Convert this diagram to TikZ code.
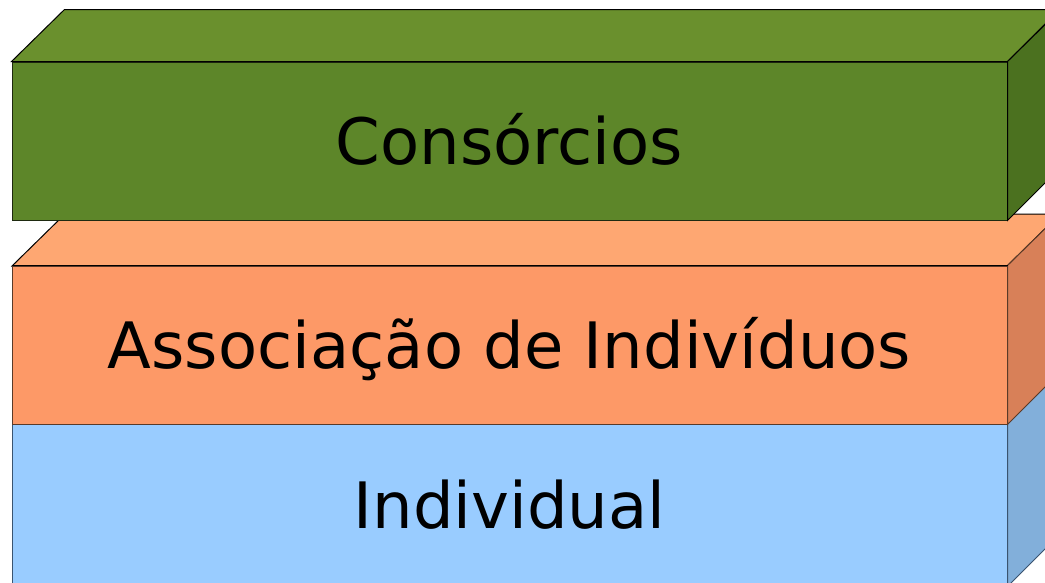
\documentclass[tikz,border=0pt]{standalone}
\usepackage{fontspec}
\setmainfont{DejaVu Sans}
\definecolor{gfront}{HTML}{5D8629}
\definecolor{gtop}{HTML}{6A902D}
\definecolor{gside}{HTML}{4B711F}
\definecolor{gline}{HTML}{1E2A10}
\definecolor{ofront}{HTML}{FD9967}
\definecolor{otop}{HTML}{FEA772}
\definecolor{oside}{HTML}{D88058}
\definecolor{oline}{HTML}{5A3A28}
\definecolor{bfront}{HTML}{99CCFF}
\definecolor{bside}{HTML}{82AFDA}
\definecolor{bline}{HTML}{3A5470}
\tikzset{
  face/.style={line width=1pt, line join=miter},
  frontbox/.style={face, rectangle, minimum width=995pt, minimum height=158pt, inner sep=0pt,
    text height=46pt, text depth=0pt,
    font=\fontsize{64}{72}\selectfont, text=black}
}
\begin{document}
\begin{tikzpicture}[x=1pt,y=-1pt]
\useasboundingbox (0,0) rectangle (1045,582);
\clip (0,0) rectangle (1045,582);
% Individual (bottom)
\node[frontbox, fill=bfront, draw=bline, minimum height=162pt] (ind) at (509.5,505) {Individual};
\draw[face, fill=bside, draw=bline] (ind.north east) -- ++(53,-52) -- ++(0,162) -- (ind.south east) -- cycle;
% Associacao (middle)
\draw[face, fill=otop, draw=black] (12,266) -- ++(53,-52) -- ++(995,0) -- (1007,266) -- cycle;
\node[frontbox, fill=ofront, draw=oline] (ass) at (509.5,345) {Associação de Indivíduos};
\draw[face, fill=oside, draw=oline] (ass.north east) -- ++(53,-52) -- ++(0,158) -- (ass.south east) -- cycle;
\draw[line width=1pt, draw=black] (ass.north west) -- (ass.north east);
% Consorcios (top)
\node[frontbox, fill=gfront, draw=gline] (con) at (509.5,141) {Consórcios};
\draw[face, fill=gtop, draw=black] (con.north west) -- ++(53,-52) -- ++(995,0) -- (con.north east) -- cycle;
\draw[face, fill=gside, draw=black] (con.north east) -- ++(53,-52) -- ++(0,158) -- (con.south east) -- cycle;
\end{tikzpicture}
\end{document}
